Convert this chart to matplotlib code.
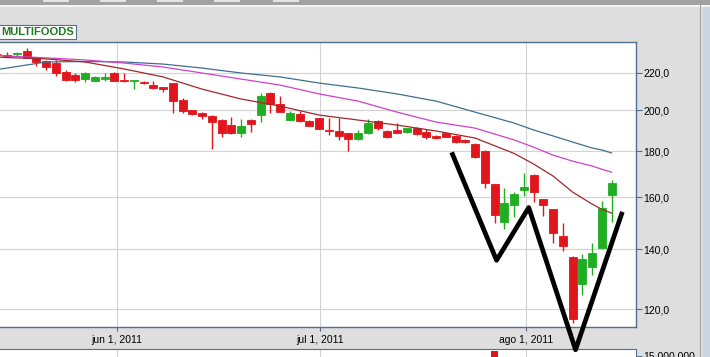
import numpy as np
import matplotlib.pyplot as plt
from matplotlib.ticker import FixedLocator, FuncFormatter, NullLocator
from matplotlib.patches import Rectangle

# ---------------------------------------------------------------
# daily candles, index = trading day (-1 is the cut one at the left edge)
idx = np.arange(-1, 63)
opens = [231.2, 230.4, 230.7, 232.8, 229.2, 226.9, 225.5, 220.7, 218.9, 216.6,
         215.7, 216.6, 220.2, 215.9, 215.6, 215.0, 213.3, 212.0, 214.2, 205.3,
         200.1, 198.7, 197.2, 195.0, 192.5, 188.5, 195.0, 197.5, 208.8, 203.1,
         195.0, 198.0, 194.5, 195.9, 190.1, 189.6, 188.5, 185.6, 188.5, 194.5,
         189.8, 190.1, 188.9, 191.2, 188.9, 187.2, 188.5, 187.4, 185.3, 183.5,
         180.1, 165.3, 150.2, 156.8, 163.0, 169.4, 159.1, 155.1, 144.9, 137.3,
         128.2, 133.9, 140.3, 161.0]
highs = [231.5, 232.2, 232.3, 234.8, 229.4, 227.5, 227.5, 221.9, 220.0, 220.5,
         218.3, 220.2, 220.5, 220.2, 216.3, 215.8, 215.7, 212.4, 214.5, 206.5,
         200.3, 199.0, 197.5, 195.5, 196.3, 195.4, 195.3, 209.2, 209.3, 207.4,
         199.8, 199.8, 194.8, 196.2, 195.9, 195.9, 188.8, 190.1, 195.4, 194.8,
         190.0, 193.6, 191.2, 191.5, 190.4, 187.5, 188.8, 187.7, 185.6, 183.8,
         180.4, 165.6, 163.8, 162.3, 170.1, 169.7, 159.4, 155.4, 149.8, 137.6,
         138.2, 142.1, 158.3, 167.1]
lows = [230.5, 229.0, 229.9, 228.5, 224.0, 221.7, 218.3, 215.5, 215.0, 215.1,
        215.4, 215.3, 215.4, 215.1, 210.9, 213.9, 211.2, 209.8, 198.7, 198.7,
        197.6, 195.4, 181.0, 186.8, 188.3, 186.8, 188.9, 194.2, 198.7, 199.0,
        194.8, 194.2, 191.9, 190.4, 187.6, 185.3, 180.3, 185.3, 188.2, 190.1,
        186.3, 188.5, 188.6, 187.8, 185.8, 185.8, 186.5, 183.9, 183.9, 177.0,
        163.9, 149.6, 147.4, 152.1, 160.6, 158.1, 152.6, 142.1, 139.3, 116.0,
        124.4, 131.0, 140.0, 150.2]
closes = [230.8, 230.0, 231.4, 228.7, 226.3, 223.6, 220.2, 216.1, 216.1, 220.2,
          218.0, 218.0, 215.7, 215.6, 216.1, 214.2, 211.5, 211.4, 204.9, 199.8,
          198.0, 197.2, 194.2, 188.5, 188.7, 192.0, 193.1, 207.4, 203.0, 199.3,
          198.7, 194.5, 192.2, 190.7, 189.6, 187.3, 185.6, 188.5, 193.6, 191.2,
          186.6, 188.8, 190.9, 188.1, 186.8, 186.1, 186.8, 184.2, 184.2, 177.3,
          166.0, 152.8, 157.5, 161.3, 164.4, 162.3, 157.0, 145.8, 141.2, 117.2,
          136.7, 138.5, 155.5, 166.0]

# moving averages
ma_idx = [-1, 0, 4, 8, 12, 16, 20, 24, 28, 32, 36, 40, 44, 48, 52, 54, 56, 58, 60, 61, 62]
ma_short = [229.2, 228.9, 228.1, 226.3, 222.3, 217.8, 211.1, 205.8, 202.1, 197.5, 195.0,
            192.5, 189.6, 186.2, 179.0, 174.2, 168.9, 162.1, 157.2, 155.1, 153.6]
ma_mid = [230.1, 229.8, 228.7, 227.5, 225.7, 223.4, 220.0, 216.6, 213.3, 208.5, 204.7,
          199.0, 194.0, 191.0, 185.3, 181.9, 178.2, 175.5, 173.3, 171.9, 170.6]
ma_long = [222.0, 222.8, 226.3, 226.6, 226.3, 225.1, 222.8, 220.0, 217.8, 214.4, 211.7,
           208.5, 204.7, 199.0, 193.5, 190.1, 187.2, 184.3, 181.5, 180.6, 179.2]

# hand drawn "W" on top of the chart
w_idx = [45.6, 50.2, 53.5, 58.3, 63.1]
w_price = [179.5, 136.1, 155.8, 108.2, 154.1]

# volume panel (only one bar reaches the visible part)
vol_idx = [50]
vol_val = [15.86e6]

yticks = [120, 140, 160, 180, 200, 220]
date_pos = [11.23, 32.1, 53.2]
date_labels = ["jun 1, 2011", "jul 1, 2011", "ago 1, 2011"]

RED = '#e0161c'
GREEN = '#1fae22'
FRAME = '#52708e'
W, H = 710.0, 357.0

#-------------------------------------------------------#
plt.rcParams['font.family'] = ['Liberation Sans', 'DejaVu Sans']
fig = plt.figure(figsize=(7.1, 3.57), dpi=100)
fig.patch.set_facecolor('#dedede')

# window chrome: tab bar on top, scrollbar on the right
fig.add_artist(Rectangle((0, 1 - 5 / H), 1, 5 / H, transform=fig.transFigure,
                         color='#a2a2a2', lw=0))
for tx in [43, 100, 157, 214, 273]:
    fig.add_artist(Rectangle((tx / W, 1 - 2 / H), 26 / W, 2 / H,
                             transform=fig.transFigure, color='#e4e4e4', lw=0))
fig.add_artist(Rectangle((0, 1 - 7 / H), 1, 2 / H, transform=fig.transFigure,
                         color='#f4f4f4', lw=0))
fig.add_artist(Rectangle((700 / W, 0), 1 / W, 1, transform=fig.transFigure,
                         color='#9aa0a8', lw=0))
fig.add_artist(Rectangle((703 / W, 0), 7 / W, 1 - 7 / H, transform=fig.transFigure,
                         color='#c9d4e3', lw=0))

#-------------------------------------------------------#
# price panel
ax = fig.add_axes([0, 1 - 327 / H, 636 / W, 285 / H])
ax.set_zorder(3)
ax.set_yscale('log')
ax.set_xlim(-0.72, 64.5)
ax.set_ylim(114.7, 238.2)

for i, o, h, l, c in zip(idx, opens, highs, lows, closes):
    col = GREEN if c > o else RED
    ax.vlines(i, l, h, color=col, lw=1.0, zorder=2)
    ax.bar(i, abs(c - o), bottom=min(o, c), width=0.82, color=col,
           edgecolor=col, lw=0.6, zorder=3)

ax.plot(ma_idx, ma_long, color='#3e6f8e', lw=0.9, zorder=4)
ax.plot(ma_idx, ma_mid, color='#cc42cc', lw=0.9, zorder=4)
ax.plot(ma_idx, ma_short, color='#a0282c', lw=0.9, zorder=4)

ax.plot(w_idx, w_price, color='black', lw=3.4, zorder=6, clip_on=False,
        solid_joinstyle='round', solid_capstyle='butt')

ax.yaxis.tick_right()
ax.yaxis.set_major_locator(FixedLocator(yticks))
ax.yaxis.set_minor_locator(NullLocator())
ax.yaxis.set_major_formatter(FuncFormatter(lambda v, p: f"{v:.1f}".replace('.', ',')))
ax.set_xticks(date_pos)
ax.set_xticklabels(date_labels)
ax.tick_params(axis='y', length=4, width=0.8, color=FRAME, labelsize=7.5, pad=1.5)
ax.tick_params(axis='x', length=3, width=0.8, color=FRAME, labelsize=7.5, pad=3)
ax.grid(True, color='#d2d2d2', lw=0.8)
ax.set_axisbelow(True)
ax.spines['left'].set_visible(False)
for s in ['top', 'right', 'bottom']:
    ax.spines[s].set_color(FRAME)
    ax.spines[s].set_linewidth(1.0)

# stock name box
fig.text(1.5 / W, 1 - 32 / H, "MULTIFOODS", color='#1f7a1f', fontweight='bold',
         fontsize=8, va='center', ha='left',
         bbox=dict(facecolor='white', edgecolor=FRAME, boxstyle='square,pad=0.2', lw=0.8))

#-------------------------------------------------------#
# volume panel, only its top edge is in the picture
vax = fig.add_axes([0, (8 - 94.5) / H, 636 / W, 94.5 / H])
vax.set_zorder(1)
vax.set_xlim(-0.72, 64.5)
vax.set_ylim(0, 16.2e6)
vax.bar(vol_idx, vol_val, width=0.65, color=RED)
vax.yaxis.tick_right()
vax.yaxis.set_major_locator(FixedLocator([15e6]))
vax.yaxis.set_major_formatter(FuncFormatter(lambda v, p: f"{int(v):,}".replace(',', '.')))
vax.set_xticks(date_pos)
vax.set_xticklabels([])
vax.tick_params(axis='y', length=4, width=0.8, color=FRAME, labelsize=7.5, pad=1.5)
vax.tick_params(axis='x', length=0)
vax.grid(True, axis='x', color='#d2d2d2', lw=0.8)
vax.set_axisbelow(True)
vax.spines['left'].set_visible(False)
for s in ['top', 'right', 'bottom']:
    vax.spines[s].set_color(FRAME)

fig.savefig('out.png', dpi=100)
